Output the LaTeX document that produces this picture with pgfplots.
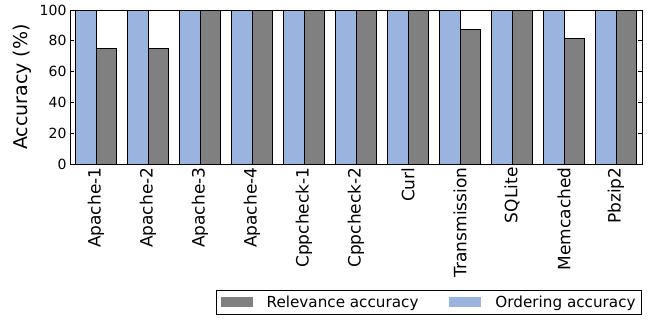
\documentclass[border=0pt]{standalone}
\usepackage{pgfplots}
\pgfplotsset{compat=1.18}
\usepackage{fontspec}
\setmainfont{DejaVu Sans}
\definecolor{obar}{HTML}{9BB4DF}
\definecolor{rbar}{HTML}{808080}
\begin{document}
\begin{tikzpicture}
\begin{axis}[
  at={(70pt,155pt)}, anchor=south west,
  width=572pt, height=154pt, scale only axis,
  xmin=-0.5, xmax=10.5, ymin=0, ymax=100,
  ytick={0,20,40,60,80,100},
  xtick={0,1,2,3,4,5,6,7,8,9,10},
  xticklabels={Apache-1,Apache-2,Apache-3,Apache-4,Cppcheck-1,Cppcheck-2,Curl,Transmission,SQLite,Memcached,Pbzip2},
  x tick label style={rotate=90, anchor=east, font=\fontsize{17}{17}\selectfont},
  y tick label style={font=\fontsize{14}{14}\selectfont},
  /pgf/number format/assume math mode=true,
  tick align=inside,
  major tick length=4pt,
  tick style={black, line width=0.8pt},
  axis line style={line width=0.9pt},
  every axis y label/.style={at={(axis description cs:-0.083,0.5)}, rotate=90, anchor=center, font=\fontsize{19}{19}\selectfont},
  ylabel={Accuracy (\%)},
  legend columns=2,
  legend style={at={(1,-0.818)}, anchor=north east, draw=black, line width=0.8pt,
    font=\fontsize{15.2}{15.2}\selectfont, inner xsep=4pt, inner ysep=3.5pt,
    /tikz/every odd column/.append style={column sep=12pt},
    /tikz/every even column/.append style={column sep=29pt}},
  legend image code/.code={\fill[#1, draw=none] (0pt,-5pt) rectangle (32pt,5pt);},
]
\addplot[ybar, bar width=0.4, bar shift=0.2, fill=rbar, draw=black, line width=0.8pt]
  coordinates {(0,75) (1,75) (2,100) (3,100) (4,100) (5,100) (6,100) (7,87.5) (8,100) (9,81.25) (10,100)};
\addlegendentry{Relevance accuracy}
\addplot[ybar, bar width=0.4, bar shift=-0.2, fill=obar, draw=black, line width=0.8pt]
  coordinates {(0,100) (1,100) (2,100) (3,100) (4,100) (5,100) (6,100) (7,100) (8,100) (9,100) (10,100)};
\addlegendentry{Ordering accuracy}
\end{axis}
\pgfresetboundingbox
\path (0pt,0pt) rectangle (652pt,319pt);
\end{tikzpicture}
\end{document}
